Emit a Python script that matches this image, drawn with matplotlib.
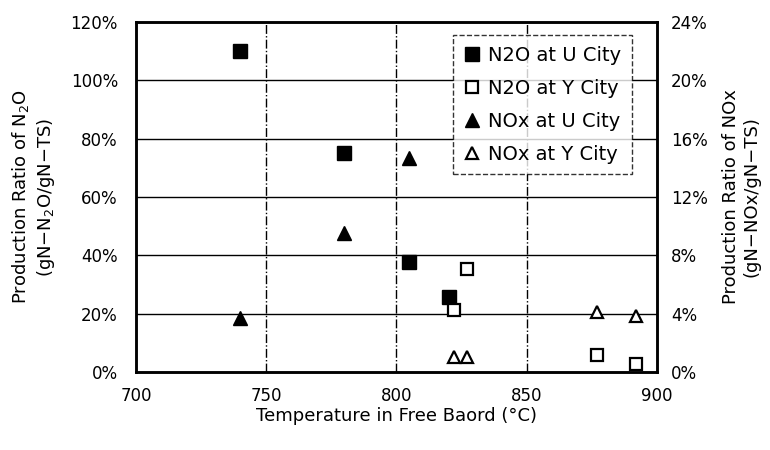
import numpy as np
import matplotlib.pyplot as plt
from matplotlib.ticker import PercentFormatter

# data
temp_n2o_u = [740, 780, 805, 820]
n2o_u = [110, 75, 37.7, 25.7]          # % (left axis)

temp_n2o_y = [822, 827, 877, 892]
n2o_y = [21.3, 35.3, 5.8, 2.7]

temp_nox_u = [740, 780, 805]
nox_u = [3.7, 9.5, 14.7]               # % (right axis)

temp_nox_y = [822, 827, 877, 892]
nox_y = [1.0, 1.0, 4.1, 3.85]

plt.rcParams['font.family'] = ['DejaVu Sans']
plt.rcParams['font.size'] = 12

fig = plt.figure(figsize=(7.7, 4.5), dpi=100)
ax = fig.add_axes([0.1766, 0.1733, 0.6766, 0.7778])
ax2 = ax.twinx()

# grid
for v in range(20, 120, 20):
    ax.axhline(v, color='black', lw=1.0, zorder=1)
for t in [750, 800, 850]:
    ax.axvline(t, color='black', lw=1.0, ls='-.', zorder=1)

h1, = ax.plot(temp_n2o_u, n2o_u, 's', color='black', ms=10.5, ls='none', zorder=3, label='N2O at U City')
h2, = ax.plot(temp_n2o_y, n2o_y, 's', mfc='white', mec='black', mew=1.6, ms=9, ls='none', zorder=3, label='N2O at Y City')
h3, = ax2.plot(temp_nox_u, nox_u, '^', color='black', ms=10.5, ls='none', zorder=3, label='NOx at U City')
h4, = ax2.plot(temp_nox_y, nox_y, '^', mfc='white', mec='black', mew=1.6, ms=9, ls='none', zorder=3, label='NOx at Y City')

ax.set_xlim(700, 900)
ax.set_ylim(0, 120)
ax2.set_ylim(0, 24)
ax.set_xticks(np.arange(700, 901, 50))
ax.set_yticks(np.arange(0, 121, 20))
ax2.set_yticks(np.arange(0, 25, 4))
ax.yaxis.set_major_formatter(PercentFormatter(decimals=0))
ax2.yaxis.set_major_formatter(PercentFormatter(decimals=0))
ax.tick_params(axis='y', length=0, pad=13)
ax.tick_params(axis='x', length=0, pad=11)
ax2.tick_params(length=0, pad=10)

for a in (ax, ax2):
    for s in a.spines.values():
        s.set_linewidth(1.8)

ax.set_xlabel('Temperature in Free Baord (°C)', fontsize=13, labelpad=1)
ax.set_ylabel('Production Ratio of N$_2$O\n(gN−N$_2$O/gN−TS)', fontsize=13, labelpad=10)
ax2.set_ylabel('Production Ratio of NOx\n(gN−NOx/gN−TS)', fontsize=13, labelpad=10)

leg = ax2.legend(handles=[h1, h2, h3, h4], loc='upper right', bbox_to_anchor=(0.952, 0.963),
                 borderaxespad=0, frameon=True, fancybox=False, handlelength=0.8,
                 handletextpad=0.45, borderpad=0.55, labelspacing=0.72, fontsize=14)
leg.get_frame().set_edgecolor('black')
leg.get_frame().set_linestyle('--')
leg.get_frame().set_linewidth(1.0)
leg.set_zorder(5)

fig.savefig('out.png', dpi=100)
